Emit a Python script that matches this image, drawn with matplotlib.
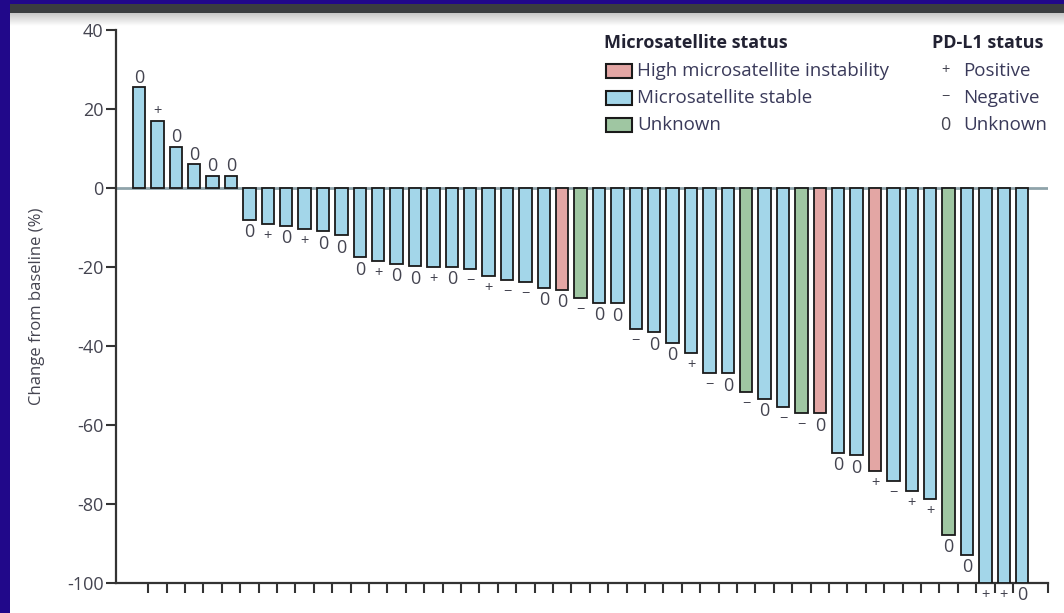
import numpy as np
import matplotlib.pyplot as plt
from matplotlib.patches import Rectangle

# change from baseline (%) per patient, sorted
change = [25.5, 17, 10.5, 6, 3, 3,
          -8, -9, -9.5, -10.5, -11, -12, -17.5, -18.5, -19.2, -19.8, -20, -20,
          -20.4, -22.4, -23.2, -23.8, -25.2, -25.8, -27.8, -29, -29.2, -35.8,
          -36.5, -39.2, -41.8, -46.9, -46.9, -51.7, -53.3, -55.5, -57, -57,
          -67, -67.6, -71.6, -74.2, -76.8, -78.8, -87.8, -92.9, -100, -100, -100]
# microsatellite status: S stable, H high instability, U unknown
msi = list("SSSSSSSSSSSSSSSSSSSSSSS" "HU" "SSSSSSSS" "U" "SS" "UH" "SS" "H" "SSS" "U" "SSSS")
# PD-L1 status
pdl1 = ['0', '+', '0', '0', '0', '0',
        '0', '+', '0', '+', '0', '0', '0', '+', '0', '0', '+', '0',
        '−', '+', '−', '−', '0', '0', '−', '0', '0', '−',
        '0', '0', '+', '−', '0', '−', '0', '−', '−', '0',
        '0', '0', '+', '−', '+', '+', '0', '0', '+', '+', '0']

colors = {'H': '#e3a6a4', 'S': '#a3d6e9', 'U': '#9fc6a2'}
legend_names = [('H', 'High microsatellite instability'),
                ('S', 'Microsatellite stable'),
                ('U', 'Unknown')]
pd_names = [('+', 'Positive'), ('−', 'Negative'), ('0', 'Unknown')]

plt.rcParams['font.family'] = ['Open Sans', 'DejaVu Sans']
plt.rcParams['axes.unicode_minus'] = False
txt = '#444450'
fs = 13

fig = plt.figure(figsize=(10.64, 6.13), dpi=100)
fig.patch.set_facecolor('#21088a')
# white page with dark strip on top
fig.patches.append(Rectangle((10 / 1064, 0), 1, 1 - 13 / 613, transform=fig.transFigure,
                             facecolor='white', edgecolor='none', zorder=-5))
fig.patches.append(Rectangle((10 / 1064, 1 - 13 / 613), 1, 9 / 613, transform=fig.transFigure,
                             facecolor='#3a3d40', edgecolor='none', zorder=-5))
grad = np.linspace(0.78, 1, 30).reshape(-1, 1)
gax = fig.add_axes([10 / 1064, 1 - 26 / 613, 1, 13 / 613], zorder=-4)
gax.imshow(np.dstack([grad, grad, grad]), aspect='auto')
gax.axis('off')

ax = fig.add_axes([116 / 1064, 30 / 613, (1048 - 116) / 1064, (583 - 30) / 613], zorder=2)
ax.set_facecolor('none')
x = np.arange(len(change))
ax.bar(x, change, width=0.67, color=[colors[m] for m in msi],
       edgecolor='#1a1a1a', linewidth=1.3, zorder=3)
ax.axhline(0, color='#8fa3aa', linewidth=2, zorder=2)

for xi, v, p in zip(x, change, pdl1):
    size = fs if p == '0' else 10.5
    off = 7 if v > 0 else -9
    ax.annotate(p, (xi, v), xytext=(0, off), textcoords='offset points',
                ha='center', va='center', fontsize=size, color=txt)

ax.set_ylim(-100, 40)
ax.set_xlim(-1.25, 49.4)
ax.set_yticks(np.arange(-100, 41, 20))
ax.set_xticks(list(x[:-1] + 0.5) + [49.4])
ax.set_xticklabels([])
ax.tick_params(axis='y', labelsize=fs, labelcolor=txt, length=7, width=1.5,
               color='#333333', pad=2)
ax.tick_params(axis='x', length=7, width=1.5, color='#333333')
for s in ['top', 'right']:
    ax.spines[s].set_visible(False)
for s in ['left', 'bottom']:
    ax.spines[s].set_linewidth(1.6)
    ax.spines[s].set_color('#333333')
ax.set_ylabel('Change from baseline (%)', fontsize=12, color=txt, labelpad=16)

# legend
def fx(px):
    return px / 1064

def fy(py):
    return 1 - py / 613

fig.text(fx(604), fy(43), 'Microsatellite status', fontsize=13, fontweight='bold',
         color='#222233', va='center')
for i, (k, name) in enumerate(legend_names):
    yc = 71 + i * 27
    fig.patches.append(Rectangle((fx(606), fy(yc + 7)), 26 / 1064, 14 / 613,
                                 transform=fig.transFigure, facecolor=colors[k],
                                 edgecolor='#1a1a1a', linewidth=1.5))
    fig.text(fx(637), fy(yc), name, fontsize=13.5, color='#3a3a5a', va='center')

fig.text(fx(932), fy(43), 'PD-L1 status', fontsize=13, fontweight='bold',
         color='#222233', va='center')
for i, (sym, name) in enumerate(pd_names):
    yc = 71 + i * 27
    fig.text(fx(945), fy(yc), sym, fontsize=13 if sym == '0' else 10.5,
             color=txt, va='center', ha='center')
    fig.text(fx(963), fy(yc), name, fontsize=13.5, color='#3a3a5a', va='center')

fig.savefig('out.png', dpi=100, facecolor=fig.get_facecolor())
